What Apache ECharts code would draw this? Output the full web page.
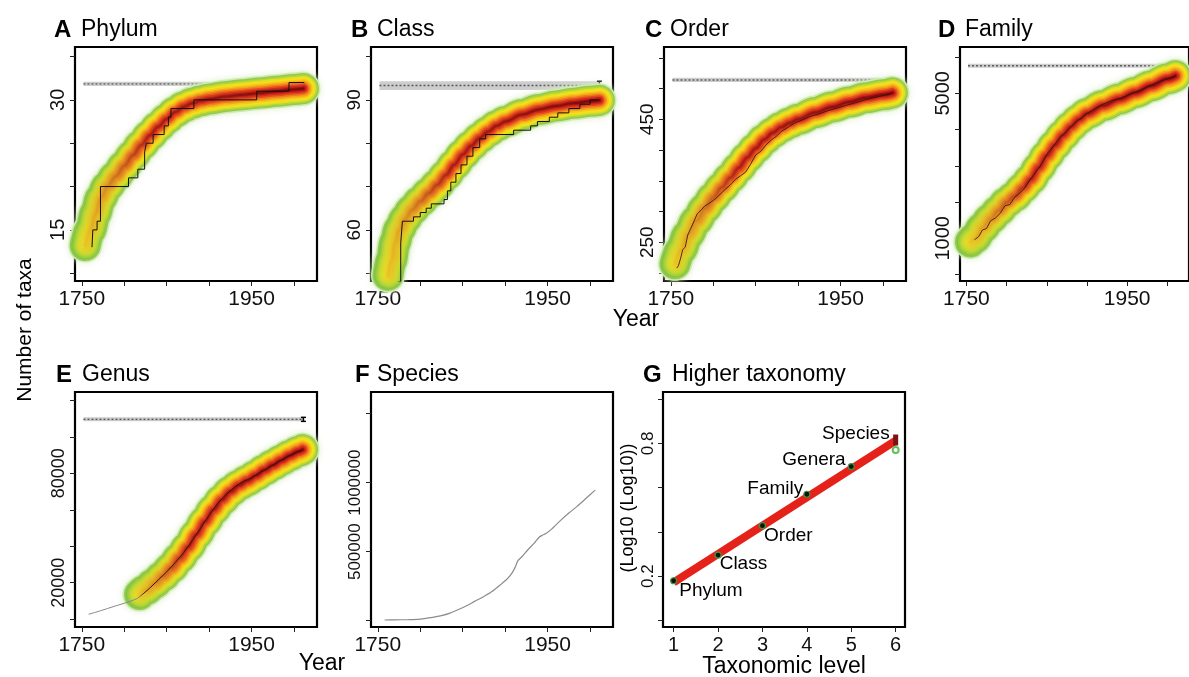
<!DOCTYPE html>
<html><head><meta charset="utf-8">
<script src="https://cdn.jsdelivr.net/npm/echarts@6/dist/echarts.min.js"></script>
<style>html,body{margin:0;padding:0;background:#fff}#c{width:1189px;height:677px}</style>
</head><body><div id="c"></div>
<script>
// ---------------- data ----------------
const yearTicks = [1750, 1800, 1850, 1900, 1950, 2000];
const yearLabels = [1750, 1950];

// A Phylum
const phylumFitYears  = [1754,1760,1766,1772,1780,1790,1800,1810,1820,1830,1840,1850,1860,1870,1880,1890,1900,1920,1940,1960,1980,2000,2011];
const phylumFitValues = [13.2,15.0,16.9,18.6,20.0,21.2,22.4,23.6,24.8,25.9,26.9,27.8,28.6,29.2,29.6,29.9,30.1,30.4,30.6,30.8,31.0,31.2,31.3];
const phylumObsYears  = [1762,1763,1768,1772,1805,1816,1824,1826,1834,1847,1852,1855,1882,1956,1994,2012];
const phylumObsValues = [13,15,16,20,21,22,24,25,26,27,28,29,30,31,32,32];
const phylumTicks = [10,15,20,25,30,35];
const phylumLabels = [15,30];

// B Class
const classFitYears  = [1762,1766,1770,1775,1782,1790,1800,1810,1820,1830,1840,1850,1860,1870,1880,1890,1900,1920,1940,1960,1980,2000,2011];
const classFitValues = [49.5,53,57,60,62.5,64.6,66.6,68.5,70.4,72.6,75.0,77.4,79.4,81.2,82.7,84.0,85.0,86.6,87.8,88.6,89.2,89.7,89.9];
const classObsYears  = [1774,1777,1779,1792,1800,1807,1813,1828,1832,1836,1842,1848,1855,1862,1870,1877,1910,1930,1938,1952,1962,1975,1988,2000,2010];
const classObsValues = [48,57,62,63,64,65,66,67,69,71,73,75,77,79,81,82,83,84,85,86,87,88,89,90,90];
const classTicks = [50,60,70,80,90,100];
const classLabels = [60,90];

// C Order
const orderFitYears  = [1755,1762,1770,1780,1790,1800,1810,1820,1830,1840,1850,1860,1870,1880,1890,1900,1920,1940,1960,1980,2000,2011];
const orderFitValues = [215,238,262,285,305,323,339,355,371,388,403,417,428,437,444,450,461,470,478,485,490,493];
const orderObsYears  = [1757,1759,1762,1764,1767,1770,1773,1777,1781,1786,1790,1796,1802,1808,1814,1820,1826,1832,1838,1844,1850,1856,1862,1868,1874,1880,1888,1896,1905,1915,1925,1935,1945,1955,1965,1975,1985,1995,2005,2010];
const orderObsValues = [208,212,226,238,242,262,271,283,296,303,309,314,320,328,336,343,352,358,364,377,392,398,408,416,422,430,437,444,449,455,459,464,468,472,476,480,484,487,490,492];
const orderTicks = [200,250,300,350,400,450,500,550];
const orderLabels = [250,450];

// D Family
const familyFitYears  = [1755,1760,1770,1780,1790,1800,1810,1820,1830,1840,1850,1860,1870,1880,1890,1900,1920,1940,1960,1980,2000,2010];
const familyFitValues = [900,1000,1290,1540,1760,1990,2160,2390,2630,2950,3280,3570,3840,4080,4280,4440,4660,4840,5020,5210,5400,5480];
const familyObsYears  = [1760,1765,1770,1775,1780,1786,1792,1798,1804,1810,1816,1822,1828,1834,1840,1846,1852,1858,1864,1870,1876,1882,1888,1894,1900,1910,1920,1930,1940,1950,1960,1970,1980,1990,2000,2010];
const familyObsValues = [960,1040,1230,1270,1480,1560,1690,1900,1930,2130,2240,2370,2580,2760,2930,3150,3380,3530,3720,3860,3980,4120,4240,4330,4440,4580,4700,4790,4850,4940,5030,5120,5230,5320,5400,5470];
const familyTicks = [0,1000,2000,3000,4000,5000,6000];
const familyLabels = [1000,5000];

// E Genus
const genusFitYears  = [1818,1825,1835,1845,1855,1865,1875,1885,1895,1905,1915,1925,1935,1945,1955,1965,1975,1985,1995,2005,2010];
const genusFitValues = [13500,16000,19500,23500,28000,33500,39500,46500,53500,60000,65500,70000,73500,76000,78800,81800,84500,87200,89800,92000,93000];
const genusObsYears  = [1758,1765,1772,1780,1790,1800,1810,1815,1820,1830,1840,1850,1860,1870,1880,1890,1900,1910,1920,1930,1940,1950,1960,1970,1980,1990,2000,2008];
const genusObsValues = [2700,3600,4600,5800,7300,8700,10300,11300,13000,17000,21500,26000,31000,36500,43000,50000,57000,63500,68500,72500,75500,77500,80500,83000,86000,88500,91000,92500];
const genusTicks = [0,20000,40000,60000,80000,100000,120000];
const genusLabels = [20000,80000];

// F Species
const speciesYears  = [1758,1770,1786,1800,1810,1825,1835,1845,1855,1864,1874,1884,1895,1902,1908,1912,1915,1920,1927,1934,1940,1944,1948,1955,1965,1975,1985,1995,2006];
const speciesValues = [5000,6000,8000,12000,20000,37000,55000,81000,110000,140000,172000,209000,263000,300000,345000,390000,435000,465000,516000,560000,605000,620000,631000,665000,725000,780000,830000,885000,946000];
const speciesTicks = [0,500000,1000000,1500000];
const speciesLabels = [500000,1000000];

// asymptotes (A..E)
const asymptoteValues = [31.85, 93.3, 514, 5761, 109600];
const asymptoteLow    = [31.6, 92.3, 510.5, 5705, 108500];
const asymptoteHigh   = [32.1, 94.3, 517.5, 5815, 110700];
const asymptoteStart  = 1752;
const asymptoteEnd    = 2011;

// G Higher taxonomy
const levelValues = [1,2,3,4,5,6];
const levelNames  = ['Phylum','Class','Order','Family','Genera','Species'];
const levelLogLog = [0.179,0.295,0.428,0.570,0.695,0.815];
const levelFitX = [1, 6];
const levelFitY = [0.172, 0.812];
const speciesRange = [0.79, 0.84];
const speciesAlt = 0.77;
const levelTicks = [1,2,3,4,5,6];
const logTicks = [0,0.2,0.4,0.6,0.8,1.0];
const logLabels = [0.2,0.8];

// ---------------- chart ----------------
const FF = "'Liberation Sans', Arial, Helvetica, sans-serif";
const zip = (a,b) => a.map((v,i)=>[v,b[i]]);
const chart = echarts.init(document.getElementById('c'), null, {renderer:'canvas'});

const panels = [
  {letter:'A', name:'Phylum', left:75,  top:47,  h:234, fitX:phylumFitYears, fitY:phylumFitValues, obsX:phylumObsYears, obsY:phylumObsValues, step:true, yMin:9.1, yMax:36.1, yT:phylumTicks, yL:phylumLabels, asym:0, tx:[54,81], ty:30, yfs:20},
  {letter:'B', name:'Class',  left:371, top:47,  h:234, fitX:classFitYears, fitY:classFitValues, obsX:classObsYears, obsY:classObsValues, step:true, yMin:48.2, yMax:102.2, yT:classTicks, yL:classLabels, asym:1, tx:[351,377], ty:30, yfs:19},
  {letter:'C', name:'Order',  left:664, top:47,  h:234, fitX:orderFitYears, fitY:orderFitValues, obsX:orderObsYears, obsY:orderObsValues, step:false, yMin:187, yMax:567.6, yT:orderTicks, yL:orderLabels, asym:2, tx:[645,670], ty:30, yfs:19},
  {letter:'D', name:'Family', left:960, top:47,  h:234, fitX:familyFitYears, fitY:familyFitValues, obsX:familyObsYears, obsY:familyObsValues, step:false, yMin:-178, yMax:6277, yT:familyTicks, yL:familyLabels, asym:3, tx:[938,965], ty:30, yfs:20},
  {letter:'E', name:'Genus',  left:75,  top:392, h:235, fitX:genusFitYears, fitY:genusFitValues, obsX:genusObsYears, obsY:genusObsValues, step:false, yMin:-4300, yMax:124600, yT:genusTicks, yL:genusLabels, asym:4, tx:[56,82], ty:375, grey:true, yfs:18},
  {letter:'F', name:'Species',left:371, top:392, h:235, line:true, yMin:-45650, yMax:1657000, yT:speciesTicks, yL:speciesLabels, tx:[355,377], ty:375, yfs:17},
  {letter:'G', name:'Higher taxonomy', left:663, top:392, h:235, g:true, tx:[643,672], ty:375, yfs:17}
];

const bandLayers = [
  {w:34, c:['#cfe9b0','#cfe9b0','#cfe9b0'], blur:true},
  {w:31, c:['#8fcb52','#8fcb52','#8fcb52']},
  {w:28, c:['#80c344','#a8d03a','#b8d534']},
  {w:25, c:['#97cb3f','#d4de28','#e4e021']},
  {w:22, c:['#acd23a','#eee21c','#f5e01a']},
  {w:19, c:['#c0d934','#f4d01a','#f6c61a']},
  {w:16, c:['#cfdc2f','#f3b01b','#f3a31d']},
  {w:13, c:['#dadd2b','#f0861c','#ee7a1d']},
  {w:10, c:['#e2db29','#e85e1c','#e4461c']},
  {w:7,  c:['#e8d627','#db3f1b','#cf231a']},
  {w:4,  c:['#ebcd26','#c42a18','#a21212']},
  {w:2,  c:['#ecc825','#aa1e16','#780909']}
];
const grad = (c) => new echarts.graphic.LinearGradient(0,0,1,0,[{offset:0,color:c[0]},{offset:0.3,color:c[1]},{offset:1,color:c[2]}]);

const grids=[], xAxes=[], yAxes=[], series=[], graphics=[];
const numFmt = v => String(Math.round(v*1000)/1000);

panels.forEach((p,i)=>{
  grids.push({left:p.left, top:p.top, width:242, height:p.h, show:true, borderColor:'#000', borderWidth:2.2, containLabel:false});
  const tickStyle = {show:true, length:5, inside:false, lineStyle:{color:'#222', width:1}};
  const xLab = {fontSize:21, color:'#111', fontFamily:FF, formatter:numFmt, hideOverlap:false};
  const yLab = {fontSize:p.yfs, color:'#111', fontFamily:FF, formatter:numFmt, hideOverlap:false};
  if (p.g) {
    xAxes.push({gridIndex:i, type:'value', min:0.76, max:6.21, axisLine:{show:false,onZero:false}, splitLine:{show:false},
      axisTick:Object.assign({customValues:levelTicks}, tickStyle),
      axisLabel:Object.assign({customValues:levelTicks, margin:8}, xLab, {fontSize:20})});
    yAxes.push({gridIndex:i, type:'value', min:-0.03, max:1.032, axisLine:{show:false,onZero:false}, splitLine:{show:false},
      axisTick:Object.assign({customValues:logTicks}, tickStyle),
      axisLabel:Object.assign({customValues:logLabels, rotate:90, margin:6}, yLab)});
  } else {
    xAxes.push({gridIndex:i, type:'value', min:1742, max:2027, axisLine:{show:false,onZero:false}, splitLine:{show:false},
      axisTick:Object.assign({customValues:yearTicks}, tickStyle),
      axisLabel:Object.assign({customValues:yearLabels, margin:8}, xLab)});
    yAxes.push({gridIndex:i, type:'value', min:p.yMin, max:p.yMax, axisLine:{show:false,onZero:false}, splitLine:{show:false},
      axisTick:Object.assign({customValues:p.yT}, tickStyle),
      axisLabel:Object.assign({customValues:p.yL, rotate:90, margin:7}, yLab)});
  }
  graphics.push({type:'text', x:p.tx[0], y:p.ty, style:{text:p.letter, font:'bold 24px '+FF, fill:'#000', align:'left', verticalAlign:'middle'}});
  graphics.push({type:'text', x:p.tx[1], y:p.ty, style:{text:p.name, font:'23px '+FF, fill:'#000', align:'left', verticalAlign:'middle'}});

  const ax = {xAxisIndex:i, yAxisIndex:i, silent:true, animation:false};
  if (p.fitX) {
    const k = p.asym;
    series.push(Object.assign({type:'custom', z:1, data:[[asymptoteStart, asymptoteEnd, asymptoteLow[k], asymptoteHigh[k]]],
      renderItem:(params, api)=>{
        const a = api.coord([api.value(0), api.value(3)]);
        const b = api.coord([api.value(1), api.value(2)]);
        return {type:'rect', shape:{x:a[0], y:a[1], width:b[0]-a[0], height:Math.max(b[1]-a[1],2)}, style:{fill:'#cdcdcd'}};
      }}, ax));
    series.push(Object.assign({type:'line', z:2, data:[[asymptoteStart, asymptoteValues[k]],[asymptoteEnd, asymptoteValues[k]]], showSymbol:false,
      lineStyle:{color:'#5a5a5a', width:1.4, type:[2,2]}}, ax));
    series.push(Object.assign({type:'custom', z:3, data:[[asymptoteEnd, asymptoteLow[k], asymptoteHigh[k]]],
      renderItem:(params, api)=>{
        const lo = api.coord([api.value(0), api.value(1)]);
        const hi = api.coord([api.value(0), api.value(2)]);
        return {type:'group', children:[
          {type:'line', shape:{x1:lo[0], y1:lo[1], x2:hi[0], y2:hi[1]}, style:{stroke:'#000', lineWidth:1.5}},
          {type:'line', shape:{x1:lo[0]-2.5, y1:lo[1], x2:lo[0]+2.5, y2:lo[1]}, style:{stroke:'#000', lineWidth:1.5}},
          {type:'line', shape:{x1:hi[0]-2.5, y1:hi[1], x2:hi[0]+2.5, y2:hi[1]}, style:{stroke:'#000', lineWidth:1.5}}
        ]};
      }}, ax));
    const fit = zip(p.fitX, p.fitY);
    bandLayers.forEach((L,j)=>{
      series.push(Object.assign({type:'line', z:4, data:fit, smooth:0.35, smoothMonotone:'x', showSymbol:false,
        lineStyle:Object.assign({width:L.w, cap:'round', join:'round', color:grad(L.c)}, L.blur?{shadowBlur:6, shadowColor:'#dcefc8'}:{})}, ax));
    });
    const obsColor = p.grey ? new echarts.graphic.LinearGradient(0,0,1,0,[{offset:0,color:'#8a8a8a'},{offset:0.24,color:'#8a8a8a'},{offset:0.27,color:'#3a1212'},{offset:1,color:'#3a1212'}])
                     : (p.step ? '#111' : 'rgba(50,20,20,0.85)');
    series.push(Object.assign({type:'line', z:5, data:zip(p.obsX,p.obsY), step:p.step?'end':false, showSymbol:false,
      lineStyle:{color:obsColor, width:1}}, ax));
  }
  if (p.line) {
    series.push(Object.assign({type:'line', z:5, data:zip(speciesYears, speciesValues), smooth:0.2, showSymbol:false,
      lineStyle:{color:'#8c8c8c', width:1.2}}, ax));
  }
  if (p.g) {
    series.push(Object.assign({type:'line', z:3, data:zip(levelFitX, levelFitY), showSymbol:false,
      lineStyle:{color:'#e52219', width:8, cap:'butt'}}, ax));
    series.push(Object.assign({type:'line', z:4, data:[[6, speciesRange[0]],[6, speciesRange[1]]], showSymbol:false,
      lineStyle:{color:'#7a1414', width:5}}, ax));
    series.push(Object.assign({type:'scatter', z:6, data:[[6, speciesAlt]], symbol:'emptyCircle', symbolSize:6,
      itemStyle:{color:'#5fbf5a', borderColor:'#5fbf5a', borderWidth:1.2, opacity:1}}, ax));
    const labelPos = [
      {position:'right', offset:[0,10]},
      {position:'right', offset:[-4,9]},
      {position:'right', offset:[-4,10]},
      {position:'left',  offset:[2,-5]},
      {position:'left',  offset:[0,-7]},
      {position:'left',  offset:[-4,-6]}
    ];
    series.push(Object.assign({type:'scatter', z:7,
      data: levelValues.map((lv,j)=>({value:[lv, levelLogLog[j]], name:levelNames[j], symbolSize: j===5?0:6,
        label:{show:true, formatter:levelNames[j], position:labelPos[j].position, offset:labelPos[j].offset,
               fontSize:19, color:'#000', fontFamily:FF, distance:2, opacity:1}})),
      itemStyle:{color:'#111', borderColor:'#3e9a3a', borderWidth:1.2, opacity:1}}, ax));
  }
});

graphics.push({type:'text', x:636, y:320, style:{text:'Year', font:'23px '+FF, fill:'#000', align:'center', verticalAlign:'middle'}});
graphics.push({type:'text', x:322, y:664, style:{text:'Year', font:'23px '+FF, fill:'#000', align:'center', verticalAlign:'middle'}});
graphics.push({type:'text', x:25, y:330, rotation:Math.PI/2, style:{text:'Number of taxa', font:'21px '+FF, fill:'#000', align:'center', verticalAlign:'middle'}});
graphics.push({type:'text', x:784, y:667, style:{text:'Taxonomic level', font:'23px '+FF, fill:'#000', align:'center', verticalAlign:'middle'}});
graphics.push({type:'text', x:628, y:508, rotation:Math.PI/2, style:{text:'(Log10 (Log10))', font:'18px '+FF, fill:'#000', align:'center', verticalAlign:'middle'}});

chart.setOption({
  animation:false,
  backgroundColor:'#fff',
  grid:grids, xAxis:xAxes, yAxis:yAxes, series:series, graphic:graphics
});
</script>
</body></html>
